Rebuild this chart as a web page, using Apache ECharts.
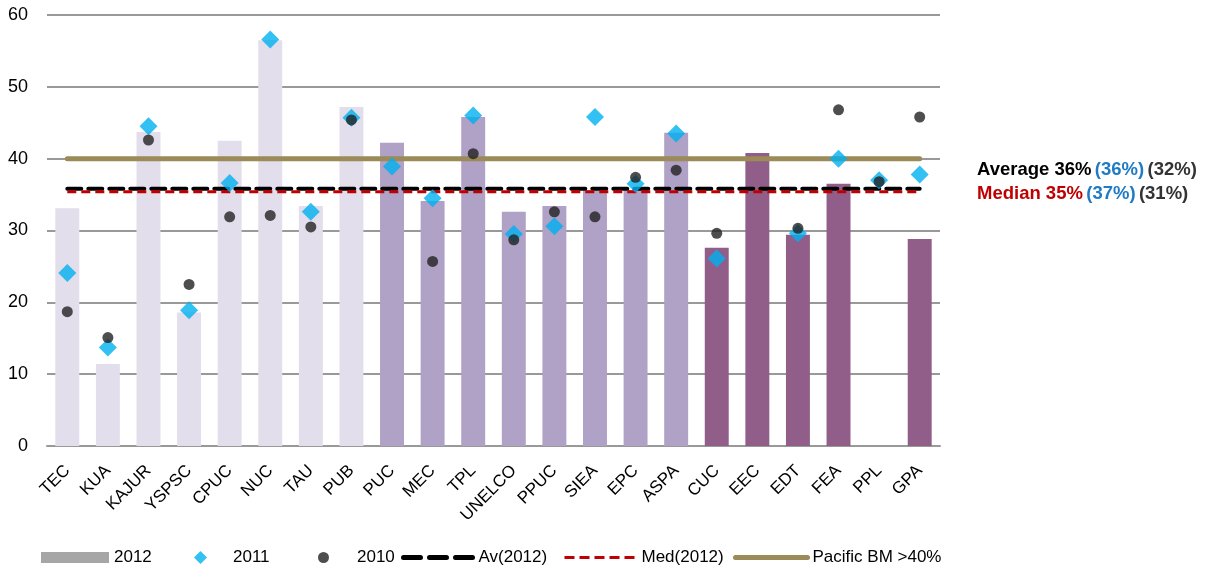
<!DOCTYPE html>
<html>
<head>
<meta charset="utf-8">
<script src="https://cdn.jsdelivr.net/npm/echarts@6/dist/echarts.min.js"></script>
<style>
  html, body { margin: 0; padding: 0; background: #fff; }
  #chart { width: 1207px; height: 570px; }
</style>
</head>
<body>
<div id="chart"></div>
<script>
const categories = ["TEC", "KUA", "KAJUR", "YSPSC", "CPUC", "NUC", "TAU", "PUB", "PUC", "MEC", "TPL",
  "UNELCO", "PPUC", "SIEA", "EPC", "ASPA", "CUC", "EEC", "EDT", "FEA", "PPL", "GPA"];
const values2012 = [33.1, 11.4, 43.7, 18.6, 42.5, 56.5, 33.4, 47.2, 42.2, 34.1, 45.8,
  32.6, 33.4, 35.6, 35.6, 43.6, 27.6, 40.8, 29.4, 36.5, null, 28.8];
const values2011 = [24.1, 13.7, 44.5, 18.9, 36.6, 56.6, 32.6, 45.7, 38.9, 34.5, 46.0,
  29.5, 30.6, 45.8, 36.5, 43.5, 26.1, null, 29.6, 40.0, 37.0, 37.8];
const values2010 = [18.7, 15.1, 42.6, 22.5, 31.9, 32.1, 30.5, 45.4, null, 25.7, 40.7,
  28.7, 32.6, 31.9, 37.4, 38.4, 29.6, null, 30.3, 46.8, 36.8, 45.8];
// region groups for bar shading
const groups = [0, 0, 0, 0, 0, 0, 0, 0, 1, 1, 1, 1, 1, 1, 1, 1, 2, 2, 2, 2, 2, 2];
const groupColors = ["#E3DEEB", "#B0A1C6", "#915D89"];
const average2012 = 35.8;
const median2012 = 35.4;
const pacificBM = 40;

const chart = echarts.init(document.getElementById("chart"));

const barData = values2012.map((v, i) => ({
  value: v,
  itemStyle: { color: groupColors[groups[i]] }
}));

const font = "'Liberation Sans', Arial, sans-serif";

// one legend per entry so the uneven spacing of the original can be kept
const hidden = { opacity: 0 };
const legendItems = [
  { name: "2012", icon: "rect", left: 36, width: 68, pad: 0 },
  { name: "2011", icon: "diamond", left: 189, width: 13, height: 13, pad: 21 },
  { name: "2010", icon: "circle", left: 313, width: 11, pad: 23 },
  { name: "Av(2012)", left: 396, width: 70, itemStyle: hidden,
    lineStyle: { width: 5, type: [17, 9], cap: "round" }, pad: 0 },
  { name: "Med(2012)", left: 558, width: 72, itemStyle: hidden,
    lineStyle: { width: 3, type: [10, 5] }, pad: 0 },
  { name: "Pacific BM >40%", left: 728, width: 72, itemStyle: hidden,
    lineStyle: { width: 5, cap: "round" }, pad: 0 }
];

chart.setOption({
  animation: false,
  grid: { left: 47, right: 267, top: 15, bottom: 124 },
  legend: legendItems.map((it) => ({
    top: 544,
    left: it.left,
    itemWidth: it.width,
    itemHeight: it.height || 11,
    itemGap: 0,
    selectedMode: false,
    textStyle: { fontFamily: font, fontSize: 17, color: "#000", padding: [0, 0, 0, it.pad] },
    data: [{ name: it.name, icon: it.icon, lineStyle: it.lineStyle, itemStyle: it.itemStyle }]
  })),
  xAxis: {
    type: "category",
    data: categories,
    axisTick: { show: false },
    axisLine: { lineStyle: { color: "#999", width: 2 } },
    axisLabel: {
      rotate: 45,
      interval: 0,
      margin: 22,
      fontFamily: font,
      fontSize: 17,
      color: "#000"
    }
  },
  yAxis: {
    type: "value",
    min: 0,
    max: 60,
    interval: 10,
    axisLine: { show: false },
    axisTick: { show: false },
    splitLine: { lineStyle: { color: "#999", width: 2 } },
    axisLabel: { fontFamily: font, fontSize: 18, color: "#000", margin: 19 }
  },
  series: [
    {
      name: "2012",
      type: "bar",
      barWidth: "59%",
      itemStyle: { color: "#A6A6A6" },
      data: barData,
      z: 1
    },
    {
      name: "Pacific BM >40%",
      type: "line",
      data: categories.map(() => pacificBM),
      symbol: "none",
      lineStyle: { color: "#9A8B58", width: 5, cap: "round" },
      itemStyle: { color: "#9A8B58" },
      z: 2
    },
    {
      name: "Av(2012)",
      type: "line",
      data: categories.map(() => average2012),
      symbol: "none",
      lineStyle: { color: "#000", width: 4, type: [14, 7], cap: "round" },
      itemStyle: { color: "#000" },
      z: 3
    },
    {
      name: "Med(2012)",
      type: "line",
      data: categories.map(() => median2012),
      symbol: "none",
      lineStyle: { color: "#C00000", width: 3, type: [9, 5] },
      itemStyle: { color: "#C00000" },
      z: 4
    },
    {
      name: "2011",
      type: "scatter",
      symbol: "diamond",
      symbolSize: 18,
      itemStyle: { color: "#00B0F0" },
      data: values2011,
      z: 5
    },
    {
      name: "2010",
      type: "scatter",
      symbol: "circle",
      symbolSize: 11,
      itemStyle: { color: "#222" },
      data: values2010,
      z: 6
    }
  ],
  graphic: [
    {
      type: "text",
      left: 977,
      top: 160,
      style: {
        text: "{k|Average 36%} {b|(36%)} {g|(32%)}\n{r|Median 35%} {b|(37%)} {g|(31%)}",
        rich: {
          k: { fill: "#000", fontWeight: "bold", fontSize: 18.5, fontFamily: font, lineHeight: 24 },
          r: { fill: "#C00000", fontWeight: "bold", fontSize: 18.5, fontFamily: font, lineHeight: 24 },
          b: { fill: "#1F7BC4", fontWeight: "bold", fontSize: 18.5, fontFamily: font, lineHeight: 24 },
          g: { fill: "#333", fontWeight: "bold", fontSize: 18.5, fontFamily: font, lineHeight: 24 }
        }
      }
    }
  ]
});
</script>
</body>
</html>
